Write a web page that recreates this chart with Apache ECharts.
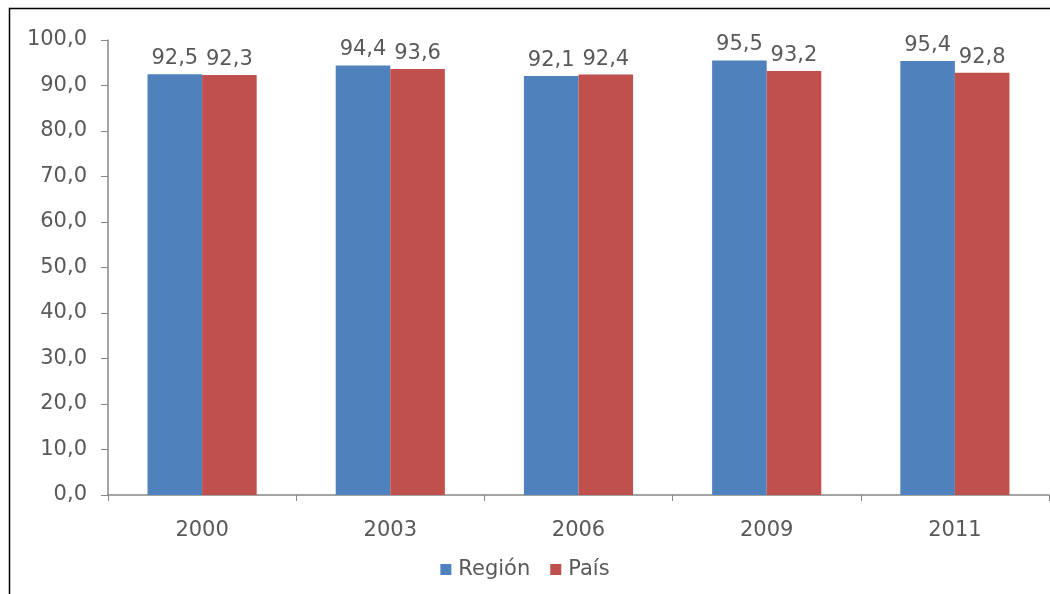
<!DOCTYPE html>
<html><head><meta charset="utf-8">
<script src="https://cdn.jsdelivr.net/npm/echarts@6/dist/echarts.min.js"></script>
<style>html,body{margin:0;padding:0;background:#fff}#c{width:1050px;height:594px}</style>
</head><body><div id="c"></div>
<script>
const categories = ['2000','2003','2006','2009','2011'];
const region = [92.5, 94.4, 92.1, 95.5, 95.4];
const pais = [92.3, 93.6, 92.4, 93.2, 92.8];
const yTicks = {min: 0, max: 100, interval: 10};

const fmt = v => v.toFixed(1).replace('.', ',');
const font = 'DejaVu Sans, Verdana, sans-serif';
const txt = '#595959';
const fs = 21;
const chart = echarts.init(document.getElementById('c'));
chart.setOption({
  animation: false,
  graphic: [{type:'rect', shape:{x:9.5,y:8.5,width:1100,height:700}, style:{fill:null, stroke:'#000', lineWidth:1.5}, silent:true}],
  grid: {left: 108, right: 1, top: 40, bottom: 99, containLabel: false},
  legend: {
    top: 554, left: 'center', itemWidth: 11, itemHeight: 11, itemGap: 20,
    icon: 'rect',
    textStyle: {fontFamily: font, fontSize: fs, color: txt, padding: [0, 0, 0, 2]},
    data: ['Región', 'País']
  },
  xAxis: {
    type: 'category', data: categories,
    axisLine: {lineStyle: {color: '#868686', width: 1.5}},
    axisTick: {show: true, alignWithLabel: false, length: 6, lineStyle: {color: '#868686'}},
    axisLabel: {fontFamily: font, fontSize: fs, color: txt, margin: 25}
  },
  yAxis: {
    type: 'value', min: yTicks.min, max: yTicks.max, interval: yTicks.interval,
    splitLine: {show: false},
    axisLine: {show: true, lineStyle: {color: '#868686', width: 1.5}},
    axisTick: {show: true, length: 7, lineStyle: {color: '#868686'}},
    axisLabel: {fontFamily: font, fontSize: fs, color: txt, margin: 21, formatter: v => fmt(v)}
  },
  series: [
    {name: 'Región', type: 'bar', data: region, itemStyle: {color: '#4F81BD'},
     barGap: '0%', barCategoryGap: '42%',
     label: {show: true, position: 'top', distance: 5, fontFamily: font, fontSize: fs, color: txt, formatter: p => fmt(p.value)}},
    {name: 'País', type: 'bar', data: pais, itemStyle: {color: '#C0504D'},
     barGap: '0%', barCategoryGap: '42%',
     label: {show: true, position: 'top', distance: 5, fontFamily: font, fontSize: fs, color: txt, formatter: p => fmt(p.value)}}
  ]
});
</script></body></html>
